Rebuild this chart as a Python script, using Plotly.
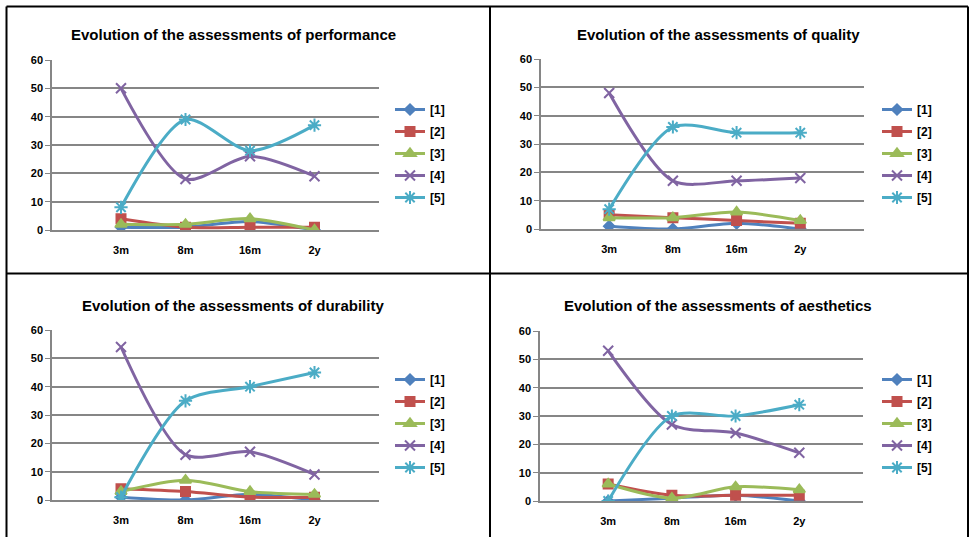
import plotly.graph_objects as go

categories = ["3m", "8m", "16m", "2y"]
series_names = ["[1]", "[2]", "[3]", "[4]", "[5]"]

titles = [
    "Evolution of the assessments of performance",
    "Evolution of the assessments of quality",
    "Evolution of the assessments of durability",
    "Evolution of the assessments of aesthetics",
]

performance_1 = [1, 1, 3, 0]
performance_2 = [4, 1, 1, 1]
performance_3 = [2, 2, 4, 0]
performance_4 = [50, 18, 26, 19]
performance_5 = [8, 39, 28, 37]

quality_1 = [1, 0, 2, 0]
quality_2 = [5, 4, 3, 2]
quality_3 = [4, 4, 6, 3]
quality_4 = [48, 17, 17, 18]
quality_5 = [7, 36, 34, 34]

durability_1 = [1, 0, 2, 0]
durability_2 = [4, 3, 1, 1]
durability_3 = [3, 7, 3, 2]
durability_4 = [54, 16, 17, 9]
durability_5 = [1, 35, 40, 45]

aesthetics_1 = [0, 1, 2, 0]
aesthetics_2 = [6, 2, 2, 2]
aesthetics_3 = [6, 1, 5, 4]
aesthetics_4 = [53, 27, 24, 17]
aesthetics_5 = [0, 30, 30, 34]

y_ticks = [0, 10, 20, 30, 40, 50, 60]

panels = [
    [performance_1, performance_2, performance_3, performance_4, performance_5],
    [quality_1, quality_2, quality_3, quality_4, quality_5],
    [durability_1, durability_2, durability_3, durability_4, durability_5],
    [aesthetics_1, aesthetics_2, aesthetics_3, aesthetics_4, aesthetics_5],
]

colors = ["#4F81BD", "#C0504D", "#9BBB59", "#8064A2", "#4BACC6"]
symbols = ["diamond", "square", "triangle-up", "x-thin-open", "asterisk-open"]
msizes = [8, 9, 10, 10, 11]

W, H = 970, 537
# pixel boxes for plot areas: (left, right, top, bottom)
boxes = [
    (52, 379, 60, 230),
    (541, 864, 59, 229),
    (52, 379, 330, 500),
    (540, 863, 331, 501),
]
title_pos = [(233, 35), (718, 35), (233, 305), (718, 305)]
legend_pos = [(390, 95), (877, 95), (390, 365), (877, 365)]

FONT = "Liberation Sans"
fig = go.Figure()

for p, data in enumerate(panels):
    ax = "" if p == 0 else str(p + 1)
    leg = "legend" if p == 0 else f"legend{p + 1}"
    for s, vals in enumerate(data):
        fig.add_trace(go.Scatter(
            x=categories, y=vals, name=series_names[s],
            mode="lines+markers",
            line=dict(color=colors[s], width=3, shape="spline", smoothing=0.8),
            marker=dict(symbol=symbols[s], size=msizes[s], color=colors[s],
                        line=dict(color=colors[s], width=2)),
            xaxis="x" + ax, yaxis="y" + ax, legend=leg,
            legendgroup=f"g{p}_{s}",
        ))
    l, r, t, b = boxes[p]
    fig.layout["xaxis" + ax] = dict(
        domain=[l / W, r / W], anchor="y" + ax, type="category",
        range=[-1.07, 4.0], showgrid=False, showline=True,
        linecolor="#868686", linewidth=1.5, ticks="",
        ticklabelstandoff=9,
        tickfont=dict(family=FONT, size=11, color="#000", weight="bold"),
        fixedrange=True,
    )
    fig.layout["yaxis" + ax] = dict(
        domain=[1 - b / H, 1 - t / H], anchor="x" + ax,
        range=[0, 60], tickvals=y_ticks, showgrid=True,
        gridcolor="#868686", gridwidth=1.5, showline=True,
        linecolor="#868686", linewidth=1.5, ticks="outside", ticklen=5,
        tickcolor="#868686", zeroline=False,
        tickfont=dict(family=FONT, size=11, color="#000", weight="bold"),
        fixedrange=True,
    )
    lx, ly = legend_pos[p]
    fig.layout[leg] = dict(
        x=lx / W, y=1 - ly / H, xanchor="left", yanchor="top",
        font=dict(family=FONT, size=12, color="#000", weight="bold"),
        itemwidth=30, tracegroupgap=3, bgcolor="rgba(0,0,0,0)",
    )
    tx, ty = title_pos[p]
    fig.add_annotation(
        x=tx / W, y=1 - ty / H, xref="paper", yref="paper",
        text=titles[p], showarrow=False, xanchor="center", yanchor="middle",
        font=dict(family=FONT, size=15, color="#000", weight="bold"),
    )

# panel borders
border = dict(color="#000", width=2)
for (x0, y0, x1, y1) in [(6.5, 6.5, 968, 6.5), (6.5, 6.5, 6.5, 537),
                         (490, 6.5, 490, 537), (6.5, 273.5, 968, 273.5),
                         (968, 6.5, 968, 537)]:
    fig.add_shape(type="line", xref="paper", yref="paper",
                  x0=x0 / W, x1=x1 / W, y0=1 - y0 / H, y1=1 - y1 / H,
                  line=border)

fig.update_layout(
    width=W, height=H, margin=dict(l=0, r=0, t=0, b=0, autoexpand=False),
    paper_bgcolor="white", plot_bgcolor="white", showlegend=True,
)

fig.write_html(
    "out.html",
    config={"displayModeBar": False},
    post_script="document.body.style.margin='0';document.body.style.overflow='hidden';",
)
